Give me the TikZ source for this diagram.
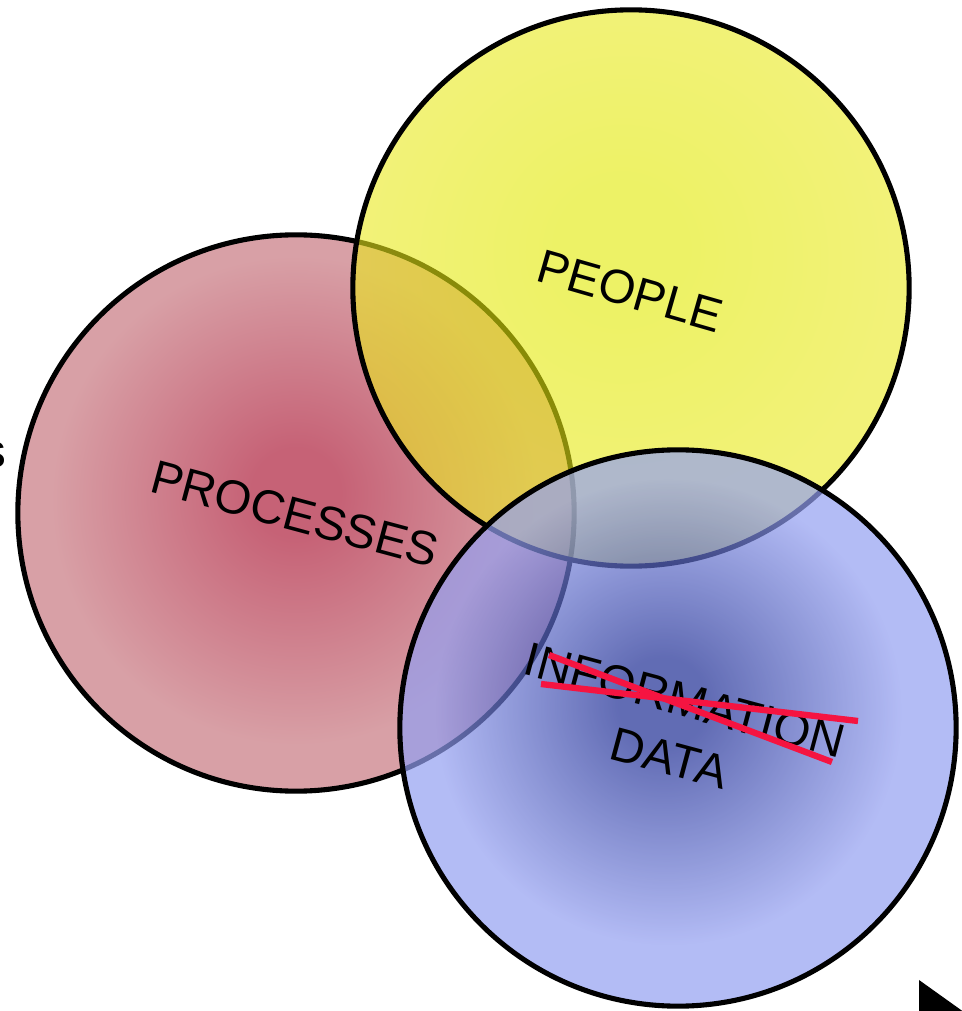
\documentclass[tikz,border=0pt]{standalone}
\usepackage{fontspec}
\setmainfont{Liberation Sans}

\definecolor{procIn}{RGB}{198,98,118}
\definecolor{procOut}{RGB}{216,160,166}
\definecolor{peopleIn}{RGB}{225,233,0}
\definecolor{peopleOut}{RGB}{233,233,30}
\definecolor{dataIn}{RGB}{30,45,148}
\definecolor{dataOut}{RGB}{147,159,241}
\definecolor{strikeRed}{RGB}{245,20,65}

\pgfdeclareradialshading{procshade}{\pgfpoint{0bp}{2bp}}{color(0bp)=(procIn); color(4bp)=(procIn); color(22bp)=(procOut); color(50bp)=(procOut)}
\pgfdeclareradialshading{peopleshade}{\pgfpoint{-1bp}{4bp}}{color(0bp)=(peopleIn); color(6bp)=(peopleIn); color(24bp)=(peopleOut); color(50bp)=(peopleOut)}
\pgfdeclareradialshading{datashade}{\pgfpoint{-1.5bp}{2.5bp}}{color(0bp)=(dataIn); color(4bp)=(dataIn); color(21bp)=(dataOut); color(50bp)=(dataOut)}

\tikzset{
  venn_circle/.style={circle, draw=black, line width=1.45pt, minimum size=5.56cm, inner sep=0pt, shade},
  venn_label/.style={font=\fontsize{13.5}{17}\selectfont, inner sep=0pt, align=center, rotate=-15},
  strike_line/.style={line width=1.8pt, draw=strikeRed},
}
\def\PicWidth {962}
\def\PicHeight {1011}

\begin{document}
\begin{tikzpicture}[x=0.01cm, y=0.01cm]
  \useasboundingbox (0,0) rectangle (\PicWidth,\PicHeight);
  \clip (0,0) rectangle (\PicWidth,\PicHeight);

  \node[venn_circle, shading=procshade] (proc) at (296,498) {};
  \node[venn_circle, shading=peopleshade, fill opacity=0.6] (people) at (631,723) {};
  \node[venn_circle, shading=datashade, fill opacity=0.7] (data) at (678,283) {};

  \node[venn_label, rotate=-1] (people_txt) at (630,720) {PEOPLE};
  \node[venn_label] (proc_txt) at (295,497) {PROCESSES};
  \node[venn_label] (data_txt) at (677,282) {INFORMATION\\DATA};

  \coordinate (s1a) at (549,356);
  \coordinate (s1b) at (832,249);
  \coordinate (s2a) at (541,327);
  \coordinate (s2b) at (858,290);
  \draw[strike_line] (s1a) -- (s1b);
  \draw[strike_line] (s2a) -- (s2b);

  \node[font=\fontsize{13.5}{17}\selectfont, inner sep=0pt, anchor=base east] (cut_txt) at (7,543) {s};
  \fill[black] (919,31) -- (975,-9) -- (919,-9) -- cycle;
\end{tikzpicture}
\end{document}
